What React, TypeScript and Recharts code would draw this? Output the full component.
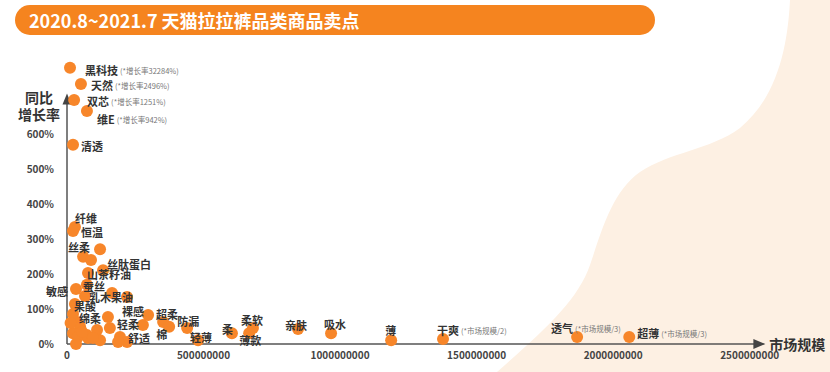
import React from "react";
import {
  ScatterChart,
  Scatter,
  XAxis,
  YAxis,
  ReferenceLine,
} from "recharts";

// labeled selling points: market size (RMB) and plotted growth (%)
const labelNames = [
  "黑科技", "天然", "双芯", "维E", "清透", "纤维", "恒温", "丝柔", "丝肽蛋白", "山茶籽油",
  "蚕丝", "敏感", "乳木果油", "果酸", "绵柔", "裸感", "轻柔", "舒适", "超柔", "棉",
  "防漏", "轻薄", "柔", "柔软", "薄款", "亲肤", "吸水", "薄", "干爽", "透气", "超薄",
];
const labelSize = [
  11e6, 51e6, 26e6, 73e6, 22e6, 29e6, 22e6, 59e6, 132e6, 77e6,
  73e6, 33e6, 66e6, 29e6, 37e6, 297e6, 278e6, 220e6, 352e6, 374e6,
  440e6, 480e6, 604e6, 681e6, 667e6, 846e6, 967e6, 1187e6, 1377e6, 1868e6, 2059e6,
];
const labelGrowth = [
  789, 743, 697, 666, 569, 334, 323, 249, 211, 203,
  169, 157, 137, 114, 63, 83, 54, 6, 63, 49,
  46, 11, 31, 46, 31, 43, 31, 11, 14, 20, 20,
];
const labelNotes: Record<string, string> = {
  黑科技: "(*增长率32284%)",
  天然: "(*增长率2496%)",
  双芯: "(*增长率1251%)",
  维E: "(*增长率942%)",
  干爽: "(*市场规模/2)",
  透气: "(*市场规模/3)",
  超薄: "(*市场规模/3)",
};

// unlabeled points in the crowded corner
const otherSize = [
  121e6, 88e6, 165e6, 220e6, 22e6, 150e6, 157e6, 194e6, 187e6, 110e6,
  121e6, 48e6, 22e6, 40e6, 73e6, 33e6, 77e6, 95e6, 13e6, 55e6,
];
const otherGrowth = [
  271, 240, 146, 134, 86, 77, 46, 20, 6, 40,
  11, 49, 31, 20, 26, 0, 17, 17, 60, 35,
];

const xTicks = [0, 500000000, 1000000000, 1500000000, 2000000000, 2500000000];
const yTicks = [0, 100, 200, 300, 400, 500, 600];

// label placement (dx, dy from dot centre, anchor)
const labelPos: Record<string, [number, number, string?]> = {
  黑科技: [15, 2], 天然: [10, 1], 双芯: [13, 1], 维E: [10, 8], 清透: [8, 1],
  纤维: [0, -9], 恒温: [8, 1], 丝柔: [-15, -10], 丝肽蛋白: [4, -6], 山茶籽油: [-1, 1],
  蚕丝: [-4, 1], 敏感: [-8, 2, "end"], 乳木果油: [4, 1], 果酸: [-1, 2], 绵柔: [2, -4],
  裸感: [-4, -4, "end"], 轻柔: [-4, -1, "end"], 舒适: [1, -4], 超柔: [-7, -8], 棉: [-13, 7],
  防漏: [-10, -7], 轻薄: [-8, -3], 柔: [-10, -4], 柔软: [-12, -8], 薄款: [-10, 7],
  亲肤: [-13, -4], 吸水: [-7, -9], 薄: [-6, -10], 干爽: [-6, -9], 透气: [-26, -9], 超薄: [8, -4],
};

const FONT = '"Noto Sans CJK SC", "Noto Sans", sans-serif';
const ORANGE = "#F7862A";

const labeled = labelNames.map((name, i) => ({
  name,
  size: labelSize[i],
  growth: labelGrowth[i],
}));
const others = otherSize.map((s, i) => ({ size: s, growth: otherGrowth[i] }));
const allPoints = [...labeled, ...others];

const Dot = (props: any) => {
  const { cx, cy } = props;
  return <circle cx={cx} cy={cy} r={6} fill={ORANGE} />;
};

const PointLabel = (props: any) => {
  const { cx, cy, payload } = props;
  const name = payload.name;
  const [dx, dy, anchor] = labelPos[name] || [8, 0];
  const note = labelNotes[name];
  return (
    <text
      x={cx + dx}
      y={cy + dy}
      textAnchor={anchor || "start"}
      dominantBaseline="central"
      fontFamily={FONT}
      fontSize={11}
      fontWeight="bold"
      fill="#333"
    >
      {name}
      {note && (
        <tspan fontSize={7.5} fontWeight="normal" fill="#777" dx={2}>
          {note}
        </tspan>
      )}
    </text>
  );
};

const YArrow = (props: any) => {
  const { x1, y1, x2, y2 } = props;
  return (
    <g>
      <line x1={x1} y1={y1} x2={x2} y2={y2 + 8} stroke="#555" strokeWidth={1.5} />
      <path d={`M${x2},${y2 - 2} L${x2 - 4.5},${y2 + 9} L${x2 + 4.5},${y2 + 9} Z`} fill="#444" />
      <text x={x2 - 28} y={y2 + 7} textAnchor="middle" fontFamily={FONT} fontSize={14} fontWeight="bold" fill="#333">
        同比
      </text>
      <text x={x2 - 28} y={y2 + 24} textAnchor="middle" fontFamily={FONT} fontSize={14} fontWeight="bold" fill="#333">
        增长率
      </text>
    </g>
  );
};

const XArrow = (props: any) => {
  const { x1, y1, x2, y2 } = props;
  return (
    <g>
      <line x1={x1} y1={y1} x2={x2 - 8} y2={y2} stroke="#555" strokeWidth={1.5} />
      <path d={`M${x2 + 2},${y2} L${x2 - 10},${y2 - 5} L${x2 - 10},${y2 + 5} Z`} fill="#444" />
      <text x={x2 + 6} y={y2} dominantBaseline="central" fontFamily={FONT} fontSize={14} fontWeight="bold" fill="#333">
        市场规模
      </text>
    </g>
  );
};

const tickStyle = { fontFamily: FONT, fontSize: 10, fontWeight: "bold", fill: "#444" };

export default function App() {
  return (
    <div style={{ position: "absolute", left: 0, top: 0, width: 830, height: 372, background: "#fff", overflow: "hidden" }}>
      <svg width={830} height={372} style={{ position: "absolute", left: 0, top: 0 }}>
        <path
          d="M790,0 C788,40 780,95 740,128 C710,150 670,152 640,172 C612,192 602,230 590,265 C578,300 545,330 497,372 L830,372 L830,0 Z"
          fill="#FDF0E3"
        />
      </svg>
      <div
        style={{
          position: "absolute",
          left: 15,
          top: 5,
          width: 640,
          height: 30,
          borderRadius: 15,
          background: "#F5841F",
          color: "#fff",
          fontFamily: FONT,
          fontWeight: "bold",
          fontSize: 18,
          lineHeight: "30px",
          paddingLeft: 14,
          boxSizing: "border-box",
        }}
      >
        2020.8~2021.7 天猫拉拉裤品类商品卖点
      </div>
      <div style={{ position: "absolute", left: 0, top: 0 }}>
        <ScatterChart width={830} height={372} margin={{ top: 64, right: 53, bottom: 0, left: 7 }}>
          <XAxis
            type="number"
            dataKey="size"
            domain={[0, 2600000000]}
            ticks={xTicks}
            axisLine={false}
            tickLine={false}
            height={28}
            tick={tickStyle}
            interval={0}
          />
          <YAxis
            type="number"
            dataKey="growth"
            domain={[0, 800]}
            ticks={yTicks}
            axisLine={false}
            tickLine={false}
            width={60}
            tickMargin={7}
            tick={tickStyle}
            tickFormatter={(v: number) => `${v}%`}
            interval={0}
          />
          <ReferenceLine
            segment={[{ x: 0, y: 0 }, { x: 0, y: 710 }]}
            shape={YArrow}
            ifOverflow="visible"
          />
          <ReferenceLine
            segment={[{ x: 0, y: 0 }, { x: 2550000000, y: 0 }]}
            shape={XArrow}
            ifOverflow="visible"
          />
          <Scatter data={allPoints} shape={Dot} isAnimationActive={false} />
          <Scatter data={labeled} shape={PointLabel} isAnimationActive={false} />
        </ScatterChart>
      </div>
    </div>
  );
}
